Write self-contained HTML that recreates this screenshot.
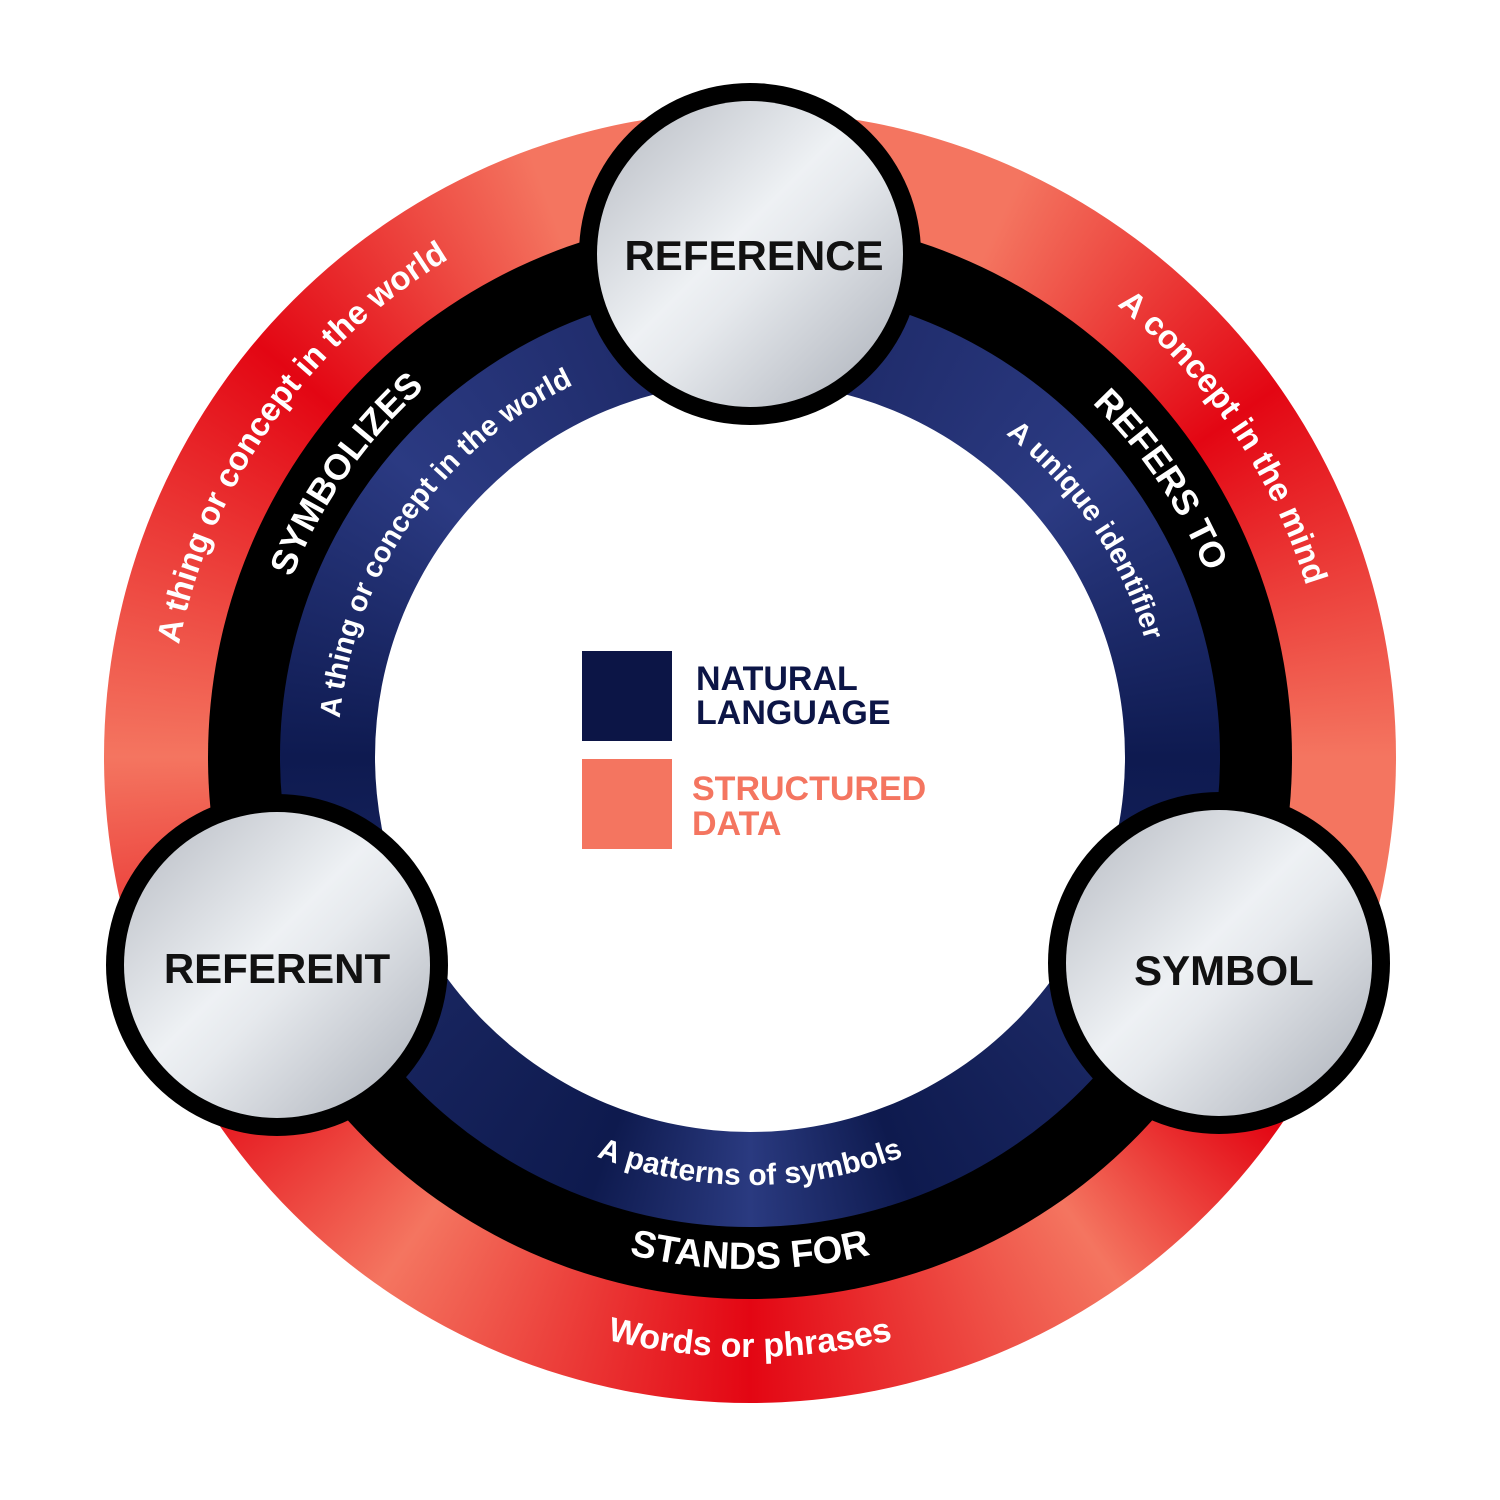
<!DOCTYPE html>
<html><head><meta charset="utf-8"><style>
html,body{margin:0;padding:0;background:#fff;}
#w{position:relative;width:1500px;height:1500px;overflow:hidden;font-family:"Liberation Sans",sans-serif;}
.ring{position:absolute;border-radius:50%;}
</style></head><body><div id="w">
<div class="ring" style="left:104px;top:111px;width:1292px;height:1292px;background:conic-gradient(from 0deg,#f47560 0deg,#f47560 25deg,#e30613 55deg,#f47560 90deg,#f47560 105deg,#e30613 125deg,#f47560 145deg,#e30613 180deg,#f47560 215deg,#e30613 240deg,#f47560 270deg,#e30613 310deg,#f47560 340deg,#f47560 360deg);"></div>
<div class="ring" style="left:208px;top:215px;width:1084px;height:1084px;background:#000;"></div>
<div class="ring" style="left:280px;top:287px;width:940px;height:940px;background:conic-gradient(from 0deg,#1a2560 0deg,#2b3a82 50deg,#0e1a50 90deg,#1a2762 130deg,#0e1a4e 160deg,#2a3a80 180deg,#0e1a4e 200deg,#1a2762 240deg,#0e1a50 270deg,#2b3a82 310deg,#1a2560 360deg);"></div>
<div class="ring" style="left:375px;top:382px;width:750px;height:750px;background:#fff;"></div>
<svg width="1500" height="1500" style="position:absolute;left:0;top:0">
<defs>
<path id="cw582" d="M750,1339 A582,582 0 1 1 750,175 A582,582 0 1 1 750,1339"/>
<path id="cw492" d="M750,1249 A492,492 0 1 1 750,265 A492,492 0 1 1 750,1249"/>
<path id="cw412" d="M750,1169 A412,412 0 1 1 750,345 A412,412 0 1 1 750,1169"/>
<path id="ccw600" d="M750,157 A600,600 0 1 0 750,1357 A600,600 0 1 0 750,157"/>
<path id="ccw512" d="M750,245 A512,512 0 1 0 750,1269 A512,512 0 1 0 750,245"/>
<path id="ccw428" d="M750,329 A428,428 0 1 0 750,1185 A428,428 0 1 0 750,329"/>
<linearGradient id="g" x1="0" y1="0" x2="1" y2="1">
<stop offset="0" stop-color="#b5b9c1"/><stop offset="0.45" stop-color="#eef1f4"/><stop offset="0.55" stop-color="#e6e9ed"/><stop offset="1" stop-color="#a9aeb7"/>
</linearGradient>
</defs>
<g fill="#fff" font-weight="bold">
<g transform="rotate(-55 750 757)">
<text font-size="33"><textPath href="#cw582" startOffset="50%" text-anchor="middle">A thing or concept in the world</textPath></text>
<text font-size="36"><textPath href="#cw492" startOffset="50%" text-anchor="middle">SYMBOLIZES</textPath></text>
<text font-size="29"><textPath href="#cw412" startOffset="50%" text-anchor="middle">A thing or concept in the world</textPath></text>
</g>
<g transform="rotate(56 750 757)">
<text font-size="33"><textPath href="#cw582" startOffset="50%" text-anchor="middle">A concept in the mind</textPath></text>
<text font-size="36"><textPath href="#cw492" startOffset="50%" text-anchor="middle">REFERS TO</textPath></text>
<text font-size="29"><textPath href="#cw412" startOffset="50%" text-anchor="middle">A unique identifier</textPath></text>
</g>
<text font-size="34"><textPath href="#ccw600" startOffset="50%" text-anchor="middle">Words or phrases</textPath></text>
<text font-size="38"><textPath href="#ccw512" startOffset="50%" text-anchor="middle">STANDS FOR</textPath></text>
<text font-size="30"><textPath href="#ccw428" startOffset="50%" text-anchor="middle">A patterns of symbols</textPath></text>
</g>
<g>
<circle cx="750" cy="254" r="171" fill="#000"/><circle cx="750" cy="254" r="153" fill="url(#g)"/>
<circle cx="277" cy="965" r="171" fill="#000"/><circle cx="277" cy="965" r="153" fill="url(#g)"/>
<circle cx="1219" cy="963" r="171" fill="#000"/><circle cx="1219" cy="963" r="153" fill="url(#g)"/>
</g>
<g font-weight="bold" font-size="42" fill="#111" text-anchor="middle">
<text x="754" y="270">REFERENCE</text>
<text x="277" y="983">REFERENT</text>
<text x="1224" y="985">SYMBOL</text>
</g>
<rect x="582" y="651" width="90" height="90" fill="#0c1546"/>
<rect x="582" y="759" width="90" height="90" fill="#f47560"/>
<g font-weight="bold" font-size="34">
<text x="696" y="690" fill="#0c1546">NATURAL</text>
<text x="696" y="724" fill="#0c1546">LANGUAGE</text>
<text x="692" y="800" fill="#f47560">STRUCTURED</text>
<text x="692" y="835" fill="#f47560">DATA</text>
</g>
</svg>
</div></body></html>
